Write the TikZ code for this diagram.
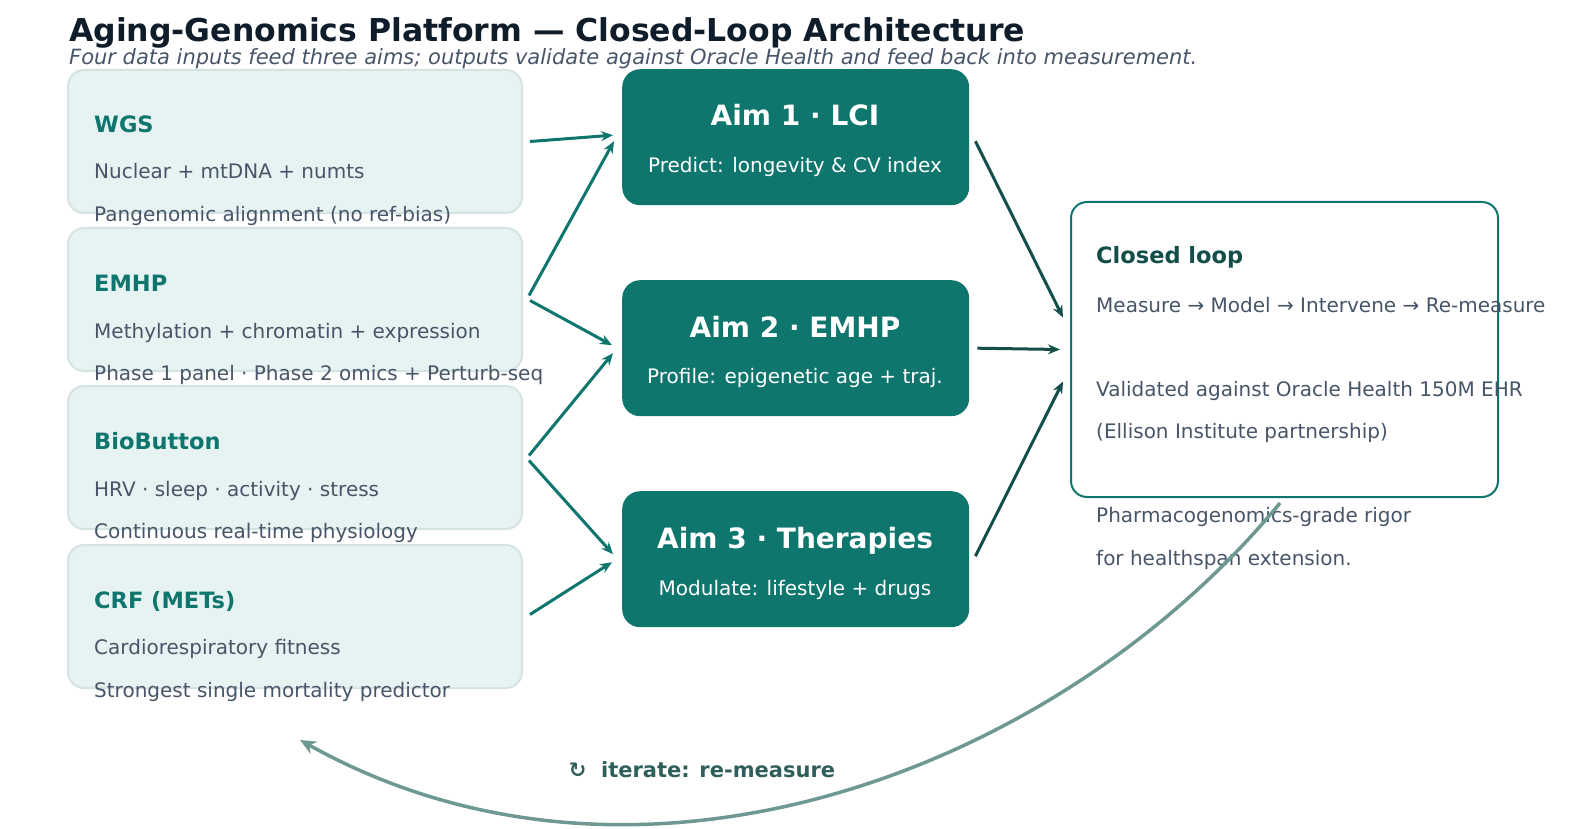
\documentclass[tikz,border=0pt]{standalone}
\usepackage{fontspec}
\setmainfont{DejaVu Sans}
\usetikzlibrary{positioning, arrows.meta, calc}
\definecolor{aimteal}{HTML}{0F766E}
\definecolor{darkteal}{HTML}{134E4A}
\definecolor{inbg}{HTML}{E6F3F2}
\definecolor{inborder}{HTML}{D5E3E3}
\definecolor{slate}{HTML}{475569}
\definecolor{ink}{HTML}{0F1C2A}
\definecolor{loopgray}{HTML}{6E9892}
\definecolor{loopink}{HTML}{2F5F5A}
\begin{document}
\begin{tikzpicture}
    [
        x=1pt, y=-1pt, inner sep=0pt,
        input_box/.style={rectangle, rounded corners=16pt, draw=inborder, line width=2pt, fill=inbg, minimum width=454pt, minimum height=143pt, anchor=north west},
        aim_box/.style={rectangle, rounded corners=18pt, fill=aimteal, minimum width=347pt, minimum height=136pt, anchor=north west},
        loop_box/.style={rectangle, rounded corners=16pt, draw=aimteal, line width=2pt, fill=white, minimum width=427pt, minimum height=295pt, anchor=north west},
        in_title/.style={anchor=base west, text=aimteal, font=\fontsize{22.5}{26}\selectfont\bfseries},
        body/.style={anchor=base west, text=slate, font=\fontsize{20}{24}\selectfont},
        aim_title/.style={anchor=base, text=white, font=\fontsize{28}{32}\selectfont\bfseries},
        aim_sub/.style={anchor=base, text=white, font=\fontsize{20}{24}\selectfont},
        feed/.style={-{Stealth[length=12pt, width=10pt]}, line width=3pt, color=aimteal},
        result/.style={-{Stealth[length=12pt, width=10pt]}, line width=3pt, color=darkteal},
    ]
        \useasboundingbox (0,0) rectangle (1572,829);
        \node[anchor=base west, text=ink, font=\fontsize{31.5}{36}\selectfont\bfseries] (title) at (69,42) {Aging-Genomics Platform — Closed-Loop Architecture};
        \node[anchor=base west, text=slate, font=\fontsize{21}{25}\selectfont\itshape] (subtitle) at (69,65) {Four data inputs feed three aims; outputs validate against Oracle Health and feed back into measurement.};
        % inputs
        \node[input_box] (wgs) at (67,69) {};
        \node[input_box] (emhp) at (67,227) {};
        \node[input_box] (bio) at (67,385) {};
        \node[input_box] (crf) at (67,544) {};
        \node[in_title] (wgs_t) at (94,133) {WGS};
        \node[body] (wgs_a) at (94,179) {Nuclear + mtDNA + numts};
        \node[body] (wgs_b) at (94,222) {Pangenomic alignment (no ref-bias)};
        \node[in_title] (emhp_t) at (94,291) {EMHP};
        \node[body] (emhp_a) at (94,338) {Methylation + chromatin + expression};
        \node[body] (emhp_b) at (94,380) {Phase 1 panel · Phase 2 omics + Perturb-seq};
        \node[in_title] (bio_t) at (94,449) {BioButton};
        \node[body] (bio_a) at (94,496) {HRV · sleep · activity · stress};
        \node[body] (bio_b) at (94,538) {Continuous real-time physiology};
        \node[in_title] (crf_t) at (94,608) {CRF (METs)};
        \node[body] (crf_a) at (94,654) {Cardiorespiratory fitness};
        \node[body] (crf_b) at (94,697) {Strongest single mortality predictor};
        % aims
        \node[aim_box] (aim1) at (622,69) {};
        \node[aim_box] (aim2) at (622,280) {};
        \node[aim_box] (aim3) at (622,491) {};
        \node[aim_title] at (795,126) {Aim 1 · LCI};
        \node[aim_sub] at (795,173) {Predict: longevity \& CV index};
        \node[aim_title] at (795,337) {Aim 2 · EMHP};
        \node[aim_sub] at (795,383) {Profile: epigenetic age + traj.};
        \node[aim_title] at (795,548) {Aim 3 · Therapies};
        \node[aim_sub] at (795,595) {Modulate: lifestyle + drugs};
        % closed loop
        \node[loop_box] (loop) at (1070,201) {};
        \node[anchor=base west, text=darkteal, font=\fontsize{22.5}{26}\selectfont\bfseries] at (1096,264) {Closed loop};
        \node[body] at (1096,312) {Measure → Model → Intervene → Re-measure};
        \node[body] at (1096,396) {Validated against Oracle Health 150M EHR};
        \node[body] at (1096,438) {(Ellison Institute partnership)};
        \node[body] at (1096,522) {Pharmacogenomics-grade rigor};
        \node[body] at (1096,565) {for healthspan extension.};
        % connectors
        \draw[feed] ($(wgs.east)+(7,0)$) -- ($(aim1.west)+(-9,-2)$);
        \draw[feed] ($(emhp.east)+(6,-4)$) -- ($(aim1.west)+(-8,4)$);
        \draw[feed] ($(emhp.east)+(7,1)$) -- ($(aim2.west)+(-10,-3)$);
        \draw[feed] ($(bio.east)+(6,-2)$) -- ($(aim2.west)+(-9,5)$);
        \draw[feed] ($(bio.east)+(6,3)$) -- ($(aim3.west)+(-9,-5)$);
        \draw[feed] ($(crf.east)+(7,-2)$) -- ($(aim3.west)+(-10,3)$);
        \draw[result] ($(aim1.east)+(6,4)$) -- ($(loop.west)+(-7,-32)$);
        \draw[result] ($(aim2.east)+(8,0)$) -- ($(loop.west)+(-10,0)$);
        \draw[result] ($(aim3.east)+(6,-3)$) -- ($(loop.west)+(-7,32)$);
        \coordinate (back) at (300,740);
        \draw[-{Stealth[length=16pt, width=14pt]}, line width=3.5pt, color=loopgray] (1280,503) .. controls (1060,770) and (640,930) .. (back);
        \node[anchor=base, text=loopink, font=\fontsize{21}{25}\selectfont\bfseries] (iter) at (702,777) {↻\ \ iterate: re-measure};
\end{tikzpicture}
\end{document}
